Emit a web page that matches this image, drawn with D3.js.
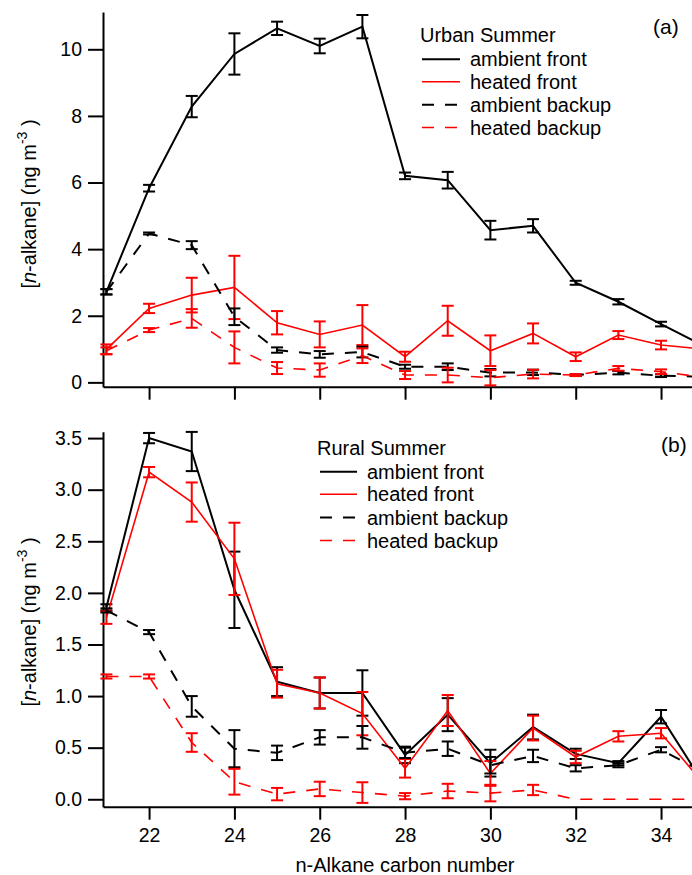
<!DOCTYPE html>
<html>
<head>
<meta charset="utf-8">
<script src="https://cdn.jsdelivr.net/npm/d3@7"></script>
<style>
  html, body { margin: 0; padding: 0; background: #fff; }
  svg { display: block; font-family: "Liberation Sans", Arial, sans-serif; }
</style>
</head>
<body>
<svg id="chart" width="692" height="875"></svg>
<script>
// ---------------- DATA ----------------
const carbon = [21, 22, 23, 24, 25, 26, 27, 28, 29, 30, 31, 32, 33, 34, 35];
const seriesNames = ["ambient front", "heated front", "ambient backup", "heated backup"];

// Panel (a) Urban Summer
const urbanAmbientFront      = [2.72, 5.83, 8.28, 9.86, 10.63, 10.1, 10.68, 6.2, 6.07, 4.57, 4.7, 2.99, 2.42, 1.75, 1.1];
const urbanAmbientFrontErr   = [0.08, 0.1, 0.32, 0.62, 0.2, 0.22, 0.35, 0.1, 0.25, 0.28, 0.2, 0.06, 0.08, 0.07, 0.05];
const urbanHeatedFront       = [0.99, 2.22, 2.62, 2.85, 1.79, 1.44, 1.72, 0.77, 1.85, 0.95, 1.47, 0.77, 1.42, 1.12, 1.0];
const urbanHeatedFrontErr    = [0.15, 0.14, 0.52, 0.95, 0.35, 0.39, 0.6, 0.15, 0.45, 0.46, 0.3, 0.13, 0.12, 0.13, 0.1];
const urbanAmbientBackup     = [2.72, 4.47, 4.12, 1.97, 0.97, 0.84, 0.91, 0.47, 0.47, 0.29, 0.3, 0.22, 0.29, 0.2, 0.17];
const urbanAmbientBackupErr  = [0.08, 0.03, 0.12, 0.25, 0.08, 0.1, 0.16, 0.06, 0.1, 0.11, 0.08, 0.03, 0.05, 0.04, 0.03];
const urbanHeatedBackup      = [0.95, 1.57, 1.92, 1.05, 0.43, 0.37, 0.8, 0.22, 0.22, 0.14, 0.25, 0.22, 0.42, 0.32, 0.15];
const urbanHeatedBackupErr   = [0.1, 0.06, 0.28, 0.48, 0.18, 0.2, 0.22, 0.12, 0.22, 0.23, 0.13, 0.03, 0.07, 0.07, 0.05];

// Panel (b) Rural Summer
const ruralAmbientFront      = [1.86, 3.5, 3.37, 2.03, 1.14, 1.03, 1.03, 0.43, 0.82, 0.35, 0.7, 0.44, 0.35, 0.8, 0.15];
const ruralAmbientFrontErr   = [0.03, 0.05, 0.19, 0.37, 0.14, 0.15, 0.22, 0.08, 0.16, 0.13, 0.12, 0.05, 0.02, 0.065, 0.05];
const ruralHeatedFront       = [1.76, 3.17, 2.88, 2.33, 1.12, 1.03, 0.83, 0.3, 0.86, 0.25, 0.69, 0.41, 0.61, 0.64, 0.15];
const ruralHeatedFrontErr    = [0.06, 0.05, 0.19, 0.35, 0.135, 0.15, 0.21, 0.09, 0.15, 0.12, 0.12, 0.06, 0.05, 0.05, 0.05];
const ruralAmbientBackup     = [1.83, 1.62, 0.9, 0.49, 0.45, 0.6, 0.6, 0.45, 0.49, 0.33, 0.42, 0.3, 0.33, 0.48, 0.26];
const ruralAmbientBackupErr  = [0.02, 0.02, 0.1, 0.18, 0.07, 0.07, 0.11, 0.05, 0.07, 0.08, 0.06, 0.03, 0.02, 0.025, 0.03];
const ruralHeatedBackup      = [1.19, 1.19, 0.55, 0.17, 0.05, 0.1, 0.065, 0.03, 0.08, 0.06, 0.09, 0, 0, 0, 0];
const ruralHeatedBackupErr   = [0.02, 0.02, 0.09, 0.125, 0.06, 0.07, 0.1, 0.03, 0.07, 0.08, 0.05, 0, 0, 0, 0];

const urbanTicksY = [0, 2, 4, 6, 8, 10];
const ruralTicksY = [0, 0.5, 1, 1.5, 2, 2.5, 3, 3.5];
const ticksX = [22, 24, 26, 28, 30, 32, 34];

// ---------------- STYLES ----------------
const styles = [
  { color: "#000", width: 2,   dash: null },
  { color: "#f00", width: 1.6, dash: null },
  { color: "#000", width: 2,   dash: "12,11" },
  { color: "#f00", width: 1.6, dash: "12,11" }
];
const FONT = '"Liberation Sans", Arial, sans-serif';

const svg = d3.select("#chart");

function drawPanel(cfg) {
  const x = d3.scaleLinear().domain([20.92, 35]).range([103, 703.7]);
  const y = d3.scaleLinear().domain(cfg.yDomain).range([cfg.bottom, cfg.top]);
  const g = svg.append("g");

  // axes
  const ax = g.append("g").attr("transform", `translate(0,${cfg.bottom})`)
    .call(d3.axisBottom(x).tickValues(ticksX).tickSize(13).tickSizeOuter(0).tickPadding(8)
      .tickFormat(cfg.xLabels ? d3.format("d") : () => ""));
  const ay = g.append("g").attr("transform", `translate(103,0)`)
    .call(d3.axisLeft(y).tickValues(cfg.yTicks).tickSize(15).tickSizeOuter(0).tickPadding(6)
      .tickFormat(cfg.yFormat));
  [ax, ay].forEach(a => {
    a.attr("font-family", FONT).attr("font-size", 19.5);
    a.selectAll("path.domain").attr("stroke", "#000").attr("stroke-width", 2);
    a.selectAll(".tick line").attr("stroke", "#000").attr("stroke-width", 2);
    a.selectAll(".tick text").attr("fill", "#000");
  });

  // series
  cfg.series.forEach((s, i) => {
    const st = styles[i];
    const pts = carbon.map((c, k) => ({ c, v: s.values[k], e: s.err[k] }));
    const line = d3.line().x(d => x(d.c)).y(d => y(d.v));
    g.append("path").datum(pts)
      .attr("d", line)
      .attr("fill", "none")
      .attr("stroke", st.color)
      .attr("stroke-width", st.width)
      .attr("stroke-dasharray", st.dash);
    const eb = g.append("g").attr("stroke", st.color).attr("stroke-width", 2);
    pts.filter(d => d.e > 0).forEach(d => {
      const cx = x(d.c), y1 = y(d.v + d.e), y2 = y(d.v - d.e);
      eb.append("line").attr("x1", cx).attr("x2", cx).attr("y1", y1).attr("y2", y2);
      eb.append("line").attr("x1", cx - 6).attr("x2", cx + 6).attr("y1", y1).attr("y2", y1);
      eb.append("line").attr("x1", cx - 6).attr("x2", cx + 6).attr("y1", y2).attr("y2", y2);
    });
  });

  // y label
  const yl = g.append("text")
    .attr("transform", `translate(36,${cfg.labelY}) rotate(-90)`)
    .attr("text-anchor", "middle")
    .attr("font-family", FONT).attr("font-size", 20).attr("fill", "#000");
  yl.append("tspan").text("[");
  yl.append("tspan").attr("font-style", "italic").text("n");
  yl.append("tspan").text("-alkane] (ng m");
  yl.append("tspan").attr("font-size", 14).attr("dy", -9).text("-3");
  yl.append("tspan").attr("dy", 9).text(" )");

  // legend
  const L = cfg.legend;
  g.append("text").attr("x", L.titleX).attr("y", L.titleY + 7)
    .attr("font-family", FONT).attr("font-size", 20).text(L.title);
  seriesNames.forEach((name, i) => {
    const st = styles[i];
    const ry = L.rowY[i];
    g.append("line").attr("x1", L.lineX0).attr("x2", L.lineX1).attr("y1", ry).attr("y2", ry)
      .attr("stroke", st.color).attr("stroke-width", st.width).attr("stroke-dasharray", st.dash);
    g.append("text").attr("x", L.textX).attr("y", ry + 7)
      .attr("font-family", FONT).attr("font-size", 20).text(name);
  });

  g.append("text").attr("x", cfg.tagX).attr("y", cfg.tagY)
    .attr("font-family", FONT).attr("font-size", 21).text(cfg.tag);
}

drawPanel({
  top: 12, bottom: 386.7, yDomain: [-0.13, 11.12],
  yTicks: urbanTicksY, yFormat: d3.format("d"), xLabels: false, labelY: 204,
  series: [
    { values: urbanAmbientFront, err: urbanAmbientFrontErr },
    { values: urbanHeatedFront, err: urbanHeatedFrontErr },
    { values: urbanAmbientBackup, err: urbanAmbientBackupErr },
    { values: urbanHeatedBackup, err: urbanHeatedBackupErr }
  ],
  legend: { title: "Urban Summer", titleX: 420, titleY: 35, rowY: [59.3, 81.8, 104.8, 127.5],
            lineX0: 422, lineX1: 460, textX: 470 },
  tag: "(a)", tagX: 653, tagY: 34
});

drawPanel({
  top: 431.7, bottom: 806.7, yDomain: [-0.072, 3.562],
  yTicks: ruralTicksY, yFormat: d3.format(".1f"), xLabels: true, labelY: 622,
  series: [
    { values: ruralAmbientFront, err: ruralAmbientFrontErr },
    { values: ruralHeatedFront, err: ruralHeatedFrontErr },
    { values: ruralAmbientBackup, err: ruralAmbientBackupErr },
    { values: ruralHeatedBackup, err: ruralHeatedBackupErr }
  ],
  legend: { title: "Rural Summer", titleX: 317, titleY: 448, rowY: [471.7, 494.3, 517.5, 540.5],
            lineX0: 320, lineX1: 357, textX: 367 },
  tag: "(b)", tagX: 661, tagY: 452
});

// x axis title
svg.append("text").attr("x", 405).attr("y", 872).attr("text-anchor", "middle")
  .attr("font-family", FONT).attr("font-size", 20).text("n-Alkane carbon number");
</script>
</body>
</html>
